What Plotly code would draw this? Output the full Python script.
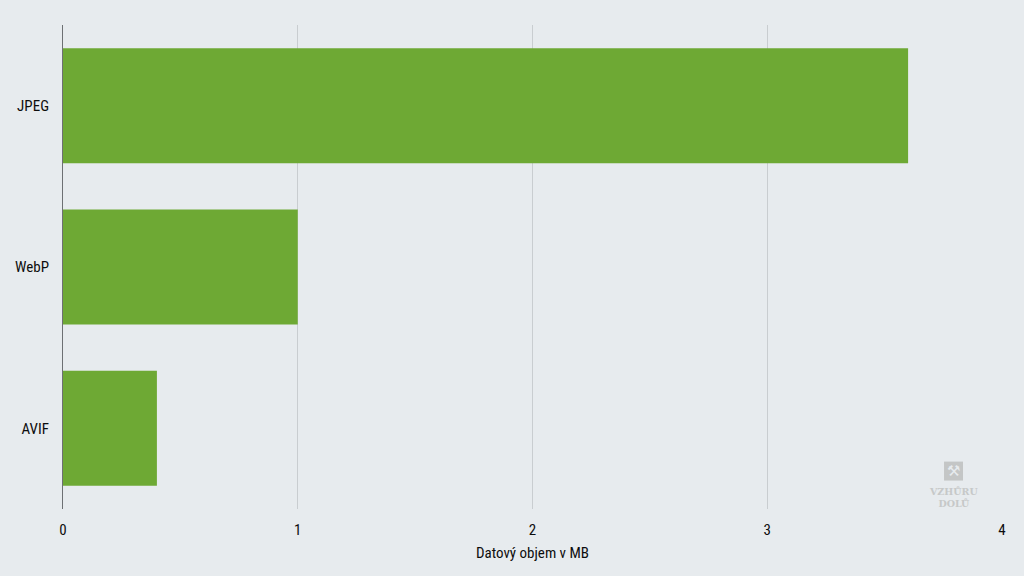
import plotly.graph_objects as go

categories = ["JPEG", "WebP", "AVIF"]
values = [3.6, 1.0, 0.4]
x_ticks = [0, 1, 2, 3, 4]
x_title = "Datový objem v MB"
logo_lines = "VZHŮRU<br>DOLŮ"

W, H = 1024, 576
L, R, T, B = 62.5, 1002, 24.5, 509.5
BG = "#e7ebee"
FONT = "Roboto, sans-serif"
INK = "#0d0d0d"

fig = go.Figure(go.Bar(
    y=categories, x=values, orientation="h",
    marker=dict(color="#6ea934", line=dict(width=0)),
    width=0.713, hoverinfo="skip",
))
fig.update_layout(
    width=W, height=H, autosize=False,
    paper_bgcolor=BG, plot_bgcolor=BG, showlegend=False,
    margin=dict(l=L, r=W - R, t=T, b=H - B, pad=0),
    font=dict(family=FONT, size=15, color=INK, weight=450),
    xaxis=dict(
        range=[0, 4], tickvals=x_ticks, showgrid=True, gridcolor="#c9cdd0", gridwidth=1,
        zeroline=False, showline=False, ticks="", ticklabelstandoff=10, automargin=False,
        title=dict(text=x_title, standoff=9, font=dict(family=FONT, size=15, color=INK, weight=450)),
    ),
    yaxis=dict(
        categoryorder="array", categoryarray=categories[::-1],
        showgrid=False, zeroline=False, showline=True, linecolor="#6d7073", linewidth=1,
        ticks="", ticklabelstandoff=10, automargin=False,
    ),
    shapes=[dict(
        type="rect", xref="paper", yref="paper", layer="above",
        x0=(944 - L) / (R - L), x1=(963 - L) / (R - L),
        y0=(B - 481) / (B - T), y1=(B - 462) / (B - T),
        fillcolor="#c4c6c6", line=dict(width=0),
    )],
    annotations=[
        dict(text="⚒", xref="paper", yref="paper", showarrow=False,
             xanchor="center", yanchor="middle",
             x=(953.5 - L) / (R - L), y=(B - 471.5) / (B - T),
             font=dict(family="DejaVu Sans", size=15, color=BG)),
        dict(text=logo_lines, xref="paper", yref="paper", showarrow=False,
             xanchor="center", yanchor="middle",
             x=(953.5 - L) / (R - L), y=(B - 497.5) / (B - T), align="center",
             font=dict(family="DejaVu Serif", size=9.5, color="#c6c8c8", weight="bold")),
    ],
)
post = """
document.documentElement.style.background = '#e7ebee';
document.body.style.margin = '0';
document.querySelectorAll('.xtick text, .ytick text, .xtitle').forEach(function (t) {
  t.style.fontStretch = '75%';
});
"""
fig.write_html("out.html", post_script=post, config={"displayModeBar": False})
